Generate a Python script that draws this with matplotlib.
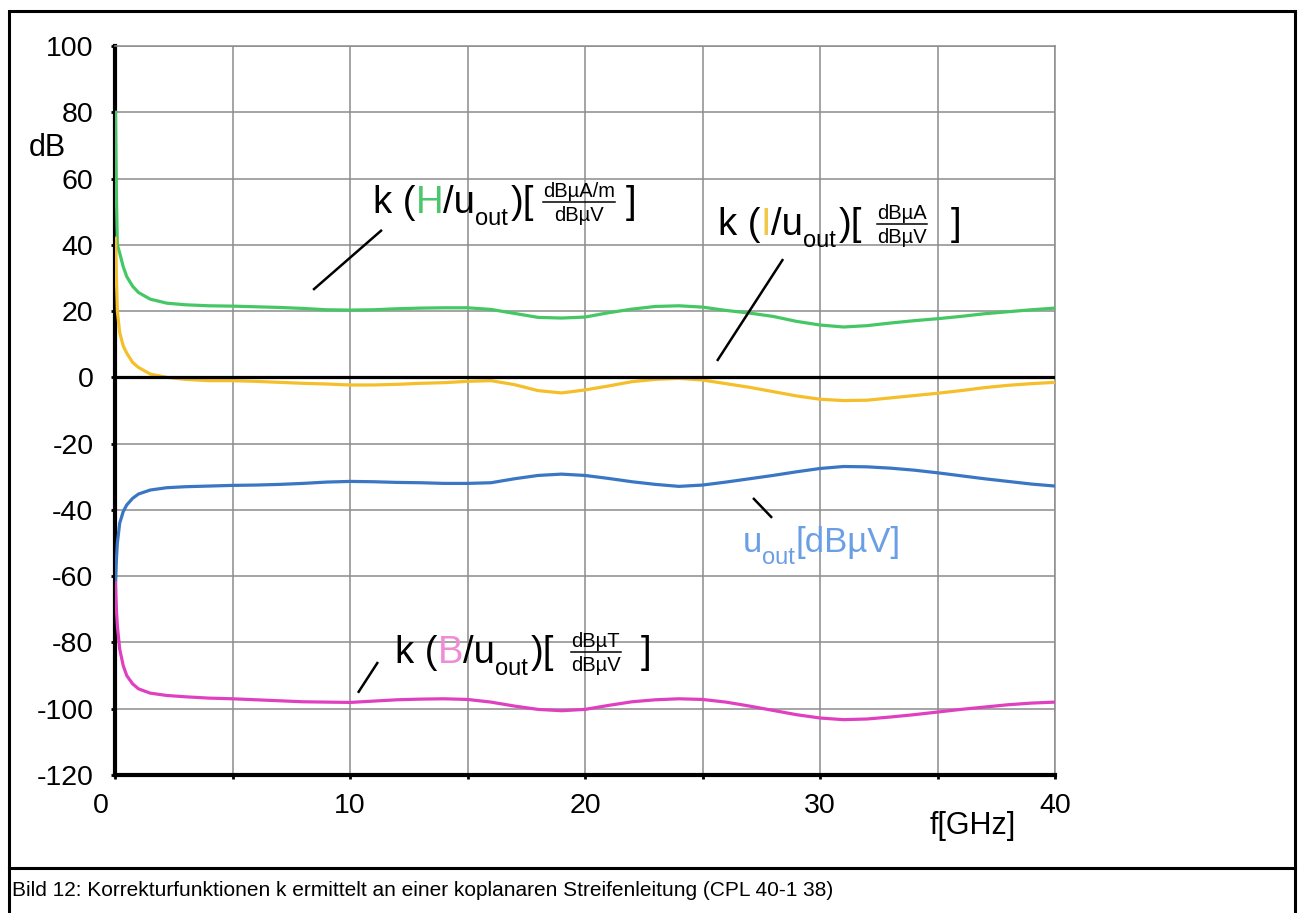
import matplotlib
matplotlib.use("Agg")
import matplotlib.pyplot as plt
import matplotlib.transforms as mtransforms
from matplotlib.lines import Line2D
from matplotlib.patches import Rectangle

plt.rcParams['font.family'] = ['Liberation Sans', 'DejaVu Sans']
plt.rcParams['axes.unicode_minus'] = False

# ---------------- data ----------------
freq = [0.02, 0.06, 0.1, 0.2, 0.35, 0.5, 0.75, 1.0, 1.5, 2.2, 3, 4, 5, 6, 7, 8, 9, 10,
        11, 12, 13, 14, 15, 16, 17, 18, 19, 20, 21, 22, 23, 24, 25, 26, 27, 28, 29, 30,
        31, 32, 33, 34, 35, 36, 37, 38, 39, 40]

k_H = [80, 55, 40, 37.5, 33.4, 30.4, 27.5, 25.6, 23.6, 22.4, 21.9, 21.6, 21.5, 21.3, 21.1, 20.8,
       20.4, 20.3, 20.4, 20.7, 20.9, 21.0, 21.0, 20.5, 19.3, 18.1, 17.9, 18.2, 19.5, 20.6, 21.4,
       21.6, 21.2, 20.2, 19.4, 18.4, 16.9, 15.8, 15.2, 15.6, 16.4, 17.1, 17.7, 18.4, 19.2, 19.8,
       20.4, 20.9]

k_I = [42, 30, 20, 13.5, 9.5, 7.3, 4.5, 3.0, 1.0, 0.0, -0.6, -1.0, -1.0, -1.2, -1.5, -1.8,
       -2.0, -2.3, -2.3, -2.1, -1.8, -1.6, -1.2, -1.0, -2.2, -4.0, -4.7, -3.8, -2.6, -1.3, -0.6,
       -0.3, -0.8, -1.9, -3.0, -4.3, -5.6, -6.6, -7.0, -6.9, -6.2, -5.5, -4.8, -4.0, -3.1, -2.4,
       -1.9, -1.5]

u_out = [-62, -55, -50, -44, -40.5, -38.5, -36.5, -35.2, -34, -33.3, -33, -32.8, -32.6, -32.5,
         -32.3, -32, -31.6, -31.4, -31.5, -31.7, -31.8, -32, -32, -31.8, -30.6, -29.6, -29.2,
         -29.6, -30.5, -31.5, -32.3, -32.9, -32.5, -31.6, -30.6, -29.6, -28.5, -27.5, -26.9,
         -27, -27.4, -28, -28.8, -29.7, -30.6, -31.4, -32.2, -32.8]

k_B = [-62, -70, -75, -82, -87, -90, -92.5, -94, -95.3, -96, -96.4, -96.8, -97, -97.3, -97.6,
       -97.9, -98, -98.1, -97.7, -97.3, -97.1, -97, -97.2, -98, -99.2, -100.2, -100.6, -100.2,
       -99, -97.9, -97.3, -97, -97.2, -98, -99.2, -100.5, -101.8, -102.8, -103.3, -103.1,
       -102.5, -101.8, -101, -100.2, -99.5, -98.8, -98.3, -98]

x_ticks = [0, 5, 10, 15, 20, 25, 30, 35, 40]
x_ticklabels = ['0', '', '10', '', '20', '', '30', '', '40']
y_ticks = [-120, -100, -80, -60, -40, -20, 0, 20, 40, 60, 80, 100]

caption = "Bild 12: Korrekturfunktionen k ermittelt an einer koplanaren Streifenleitung (CPL 40-1 38)"

# ---------------- figure ----------------
W, H = 1300, 913
fig = plt.figure(figsize=(W / 100, H / 100), dpi=100)
ax = fig.add_axes([115 / W, 1 - 775 / H, 940 / W, 729 / H])

ax.set_xlim(0, 40)
ax.set_ylim(-120, 100)
ax.set_xticks(x_ticks)
ax.set_xticklabels(x_ticklabels)
ax.set_yticks(y_ticks)
ax.grid(True, color='#8c8c8c', lw=1.1)
ax.set_axisbelow(True)

for s in ['top', 'right']:
    ax.spines[s].set_color('#8c8c8c')
    ax.spines[s].set_linewidth(1.1)
ax.spines['left'].set_linewidth(3.0)
ax.spines['bottom'].set_linewidth(3.0)
ax.tick_params(axis='both', direction='out', length=3, width=2, color='k', labelsize=20.5)
ax.tick_params(axis='y', pad=12.5)
ax.tick_params(axis='x', pad=10)

# shift "0" x-label slightly to the left like the original
lbl0 = ax.get_xticklabels()[0]
lbl0.set_transform(lbl0.get_transform() + mtransforms.ScaledTranslation(-14 / 100, 0, fig.dpi_scale_trans))

ax.axhline(0, color='k', lw=2.3, zorder=4)

ax.plot(freq, k_H, color='#45c765', lw=2.3, zorder=3)
ax.plot(freq, k_I, color='#f5bf2a', lw=2.3, zorder=3)
ax.plot(freq, u_out, color='#3a76c4', lw=2.3, zorder=3)
ax.plot(freq, k_B, color='#e040c0', lw=2.3, zorder=3)

# leader lines
for (xa, ya, xb, yb) in [(8.43, 26.4, 11.36, 44.5), (25.62, 4.95, 28.43, 35.7),
                         (27.15, -36.4, 27.96, -42.4), (10.34, -95.2, 11.19, -85.9)]:
    ax.plot([xa, xb], [ya, yb], color='k', lw=1.8, zorder=5, solid_capstyle='butt')

renderer = fig.canvas.get_renderer()


def rich_label(x, y, pieces):
    xoff = 0.0
    X, Y = ax.transData.transform((x, y))
    for p in pieces:
        kind = p[0]
        if kind == 'gap':
            xoff += p[1]
        elif kind == 't':
            _, s, size, color, dy = p
            tr = mtransforms.offset_copy(ax.transData, fig=fig, x=xoff, y=dy, units='dots')
            t = ax.text(x, y, s, transform=tr, fontsize=size, color=color,
                        ha='left', va='baseline', zorder=6)
            xoff += t.get_window_extent(renderer).width
        elif kind == 'frac':
            _, num, den, size, color = p
            tn = ax.text(x, y, num, fontsize=size, color=color, ha='center', va='baseline', zorder=6)
            td = ax.text(x, y, den, fontsize=size, color=color, ha='center', va='baseline', zorder=6)
            w = max(tn.get_window_extent(renderer).width, td.get_window_extent(renderer).width)
            cx = xoff + w / 2
            tn.set_transform(mtransforms.offset_copy(ax.transData, fig=fig, x=cx, y=16, units='dots'))
            td.set_transform(mtransforms.offset_copy(ax.transData, fig=fig, x=cx, y=-8, units='dots'))
            fig.add_artist(Line2D([X + xoff, X + xoff + w], [Y + 11, Y + 11], color=color, lw=1.1,
                                  transform=mtransforms.IdentityTransform()))
            xoff += w


MS, SS, FS = 27.5, 17, 14.5
K = 'k'
rich_label(10.98, 49.6, [('t', 'k (', MS, K, 0), ('t', 'H', MS, '#4cc66e', 0), ('t', '/u', MS, K, 0),
                         ('t', 'out', SS, K, -12), ('gap', 3), ('t', ')[', MS, K, 0), ('gap', 9),
                         ('frac', 'dBµA/m', 'dBµV', FS, K), ('gap', 10), ('t', ']', MS, K, 0)])
rich_label(25.66, 43.0, [('t', 'k (', MS, K, 0), ('t', 'I', MS, '#f2c84b', 0), ('t', '/u', MS, K, 0),
                         ('t', 'out', SS, K, -12), ('gap', 3), ('t', ')[', MS, K, 0), ('gap', 15),
                         ('frac', 'dBµA', 'dBµV', FS, K), ('gap', 24), ('t', ']', MS, K, 0)])
rich_label(11.91, -86.2, [('t', 'k (', MS, K, 0), ('t', 'B', MS, '#f08cd6', 0), ('t', '/u', MS, K, 0),
                          ('t', 'out', SS, K, -12), ('gap', 3), ('t', ')[', MS, K, 0), ('gap', 17),
                          ('frac', 'dBµT', 'dBµV', FS, K), ('gap', 20), ('t', ']', MS, K, 0)])
rich_label(26.72, -52.7, [('t', 'u', 25, '#6a9fe6', 0), ('t', 'out', 17, '#6a9fe6', -12),
                          ('t', '[dBµV]', 25, '#6a9fe6', 0)])

# axis labels
fig.text(47 / W, 1 - 148 / H, 'dB', fontsize=22, ha='center', va='center')
fig.text(973 / W, 1 - 826 / H, 'f[GHz]', fontsize=22, ha='center', va='center')

# outer frame and caption
fig.add_artist(Rectangle((9 / W, -0.02), (1295 - 9) / W, (913 - 11) / H + 0.02,
                         transform=fig.transFigure, fill=False, ec='k', lw=2.2))
fig.add_artist(Line2D([9 / W, 1295 / W], [1 - 868 / H, 1 - 868 / H], color='k', lw=2.2,
                      transform=fig.transFigure))
fig.text(12 / W, 1 - 890 / H, caption, fontsize=15, ha='left', va='center')

fig.savefig('out.png', dpi=100)
